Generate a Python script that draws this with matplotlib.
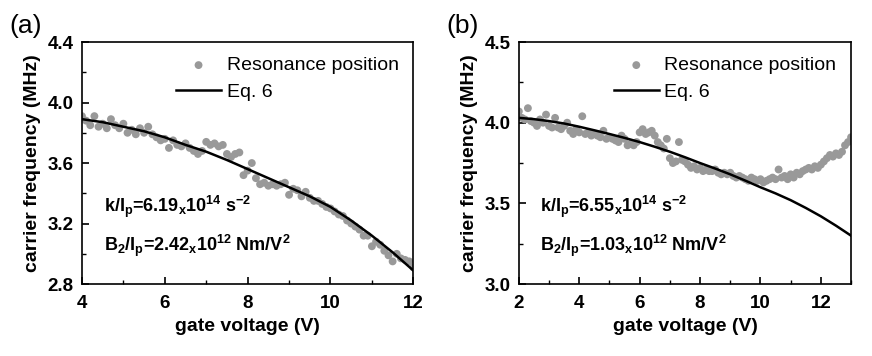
import numpy as np
import matplotlib
matplotlib.use("Agg")
import matplotlib.pyplot as plt

plt.rcParams['font.family'] = 'Liberation Sans'
plt.rcParams['mathtext.fontset'] = 'custom'
plt.rcParams['mathtext.rm'] = 'Liberation Sans'
plt.rcParams['mathtext.bf'] = 'Liberation Sans:bold'

# panel (a): resonance positions, 4..12 V in 0.1 V steps
volts_a = np.round(np.arange(4.0, 12.01, 0.1), 2)
freq_a = [3.91, 3.88, 3.85, 3.91, 3.84, 3.86, 3.83, 3.89, 3.85, 3.83,
          3.86, 3.80, 3.82, 3.79, 3.83, 3.80, 3.84, 3.79, 3.77, 3.75,
          3.76, 3.70, 3.75, 3.72, 3.71, 3.73, 3.70, 3.68, 3.66, 3.68,
          3.74, 3.72, 3.73, 3.71, 3.72, 3.66, 3.64, 3.66, 3.67, 3.52,
          3.55, 3.60, 3.50, 3.46, 3.47, 3.45, 3.46, 3.45, 3.46, 3.47,
          3.39, 3.43, 3.42, 3.38, 3.41, 3.37, 3.35, 3.35, 3.33, 3.31,
          3.30, 3.28, 3.26, 3.25, 3.22, 3.20, 3.18, 3.16, 3.12, 3.12,
          3.05, 3.08, 3.06, 3.02, 2.99, 2.95, 3.00, 2.97, 2.96, 2.95,
          2.91]
fit_va = [4.0, 4.5, 5.0, 5.5, 6.0, 6.5, 7.0, 7.5, 8.0, 8.5, 9.0, 9.5, 10.0, 10.5, 11.0, 11.5, 12.0]
fit_fa = [3.89, 3.87, 3.84, 3.81, 3.77, 3.72, 3.675, 3.62, 3.56, 3.50, 3.44, 3.38, 3.31, 3.22, 3.12, 3.01, 2.89]

# panel (b): resonance positions, 2..13 V in 0.1 V steps
volts_b = np.round(np.arange(2.0, 13.01, 0.1), 2)
freq_b = [4.07, 4.03, 4.02, 4.09, 4.01, 4.00, 3.98, 4.02, 4.00, 4.05,
          3.98, 3.97, 4.03, 3.97, 3.96, 3.98, 4.00, 3.95, 3.93, 3.96,
          3.94, 4.04, 3.93, 3.94, 3.92, 3.93, 3.92, 3.91, 3.95, 3.90,
          3.91, 3.90, 3.89, 3.88, 3.92, 3.90, 3.86, 3.87, 3.86, 3.88,
          3.94, 3.96, 3.93, 3.94, 3.95, 3.92, 3.88, 3.86, 3.84, 3.90,
          3.78, 3.75, 3.76, 3.88, 3.77, 3.76, 3.74, 3.72, 3.73, 3.71,
          3.72, 3.70, 3.71, 3.70, 3.70, 3.71, 3.69, 3.68, 3.69, 3.68,
          3.69, 3.67, 3.66, 3.67, 3.66, 3.65, 3.64, 3.66, 3.65, 3.64,
          3.65, 3.63, 3.64, 3.65, 3.66, 3.65, 3.71, 3.66, 3.67, 3.65,
          3.68, 3.66, 3.69, 3.68, 3.70, 3.71, 3.72, 3.71, 3.73, 3.72,
          3.74, 3.76, 3.78, 3.80, 3.79, 3.81, 3.80, 3.82, 3.86, 3.88,
          3.91]
fit_vb = [2.0, 2.5, 3.0, 3.5, 4.0, 4.5, 5.0, 5.5, 6.0, 6.5, 7.0, 7.5, 8.0,
          8.5, 9.0, 9.5, 10.0, 10.5, 11.0, 11.5, 12.0, 12.5, 13.0]
fit_fb = [4.03, 4.022, 4.01, 3.995, 3.975, 3.953, 3.93, 3.906, 3.88, 3.851, 3.82, 3.786, 3.75,
          3.716, 3.68, 3.641, 3.60, 3.562, 3.52, 3.472, 3.42, 3.362, 3.30]

fig = plt.figure(figsize=(8.72, 3.56), dpi=100)
ax_a = fig.add_axes([0.094, 0.202, 0.380, 0.680])
ax_b = fig.add_axes([0.595, 0.202, 0.381, 0.680])

panels = [
    (ax_a, volts_a, freq_a, fit_va, fit_fa, (4, 12), (2.8, 4.4), np.arange(4, 12.1, 2), np.arange(2.8, 4.41, 0.4),
     r'k/I$_\mathbf{p}$=6.19$_\mathbf{x}$10$^\mathbf{14}$ s$^\mathbf{-2}$',
     r'B$_\mathbf{2}$/I$_\mathbf{p}$=2.42$_\mathbf{x}$10$^\mathbf{12}$ Nm/V$^\mathbf{2}$', '(a)'),
    (ax_b, volts_b, freq_b, fit_vb, fit_fb, (2, 13), (3.0, 4.5), np.arange(2, 13.1, 2), np.arange(3.0, 4.51, 0.5),
     r'k/I$_\mathbf{p}$=6.55$_\mathbf{x}$10$^\mathbf{14}$ s$^\mathbf{-2}$',
     r'B$_\mathbf{2}$/I$_\mathbf{p}$=1.03$_\mathbf{x}$10$^\mathbf{12}$ Nm/V$^\mathbf{2}$', '(b)'),
]

for ax, vx, fy, fvx, ffy, xl, yl, xt, yt, txt1, txt2, tag in panels:
    ax.scatter(vx, fy, s=32, color='#999999', edgecolors='none', label='Resonance position', zorder=2)
    ax.plot(fvx, ffy, color='black', lw=1.8, label='Eq. 6', zorder=3)
    ax.set_xlim(xl)
    ax.set_ylim(yl)
    ax.set_xticks(xt)
    ax.set_yticks(yt)
    ax.set_xticklabels([str(int(v)) for v in xt])
    ax.set_yticklabels(['%.1f' % v for v in yt])
    ax.set_xticks(np.arange(xl[0], xl[1] + 0.01, 1), minor=True)
    ax.set_yticks(np.arange(yl[0], yl[1] + 0.01, (yt[1] - yt[0]) / 2), minor=True)
    ax.tick_params(which='major', direction='in', length=5, width=1.2, labelsize=13.5, pad=6)
    ax.tick_params(axis='x', which='major', pad=8)
    ax.tick_params(which='minor', direction='in', length=3, width=1.0)
    for lab in ax.get_xticklabels() + ax.get_yticklabels():
        lab.set_fontweight('bold')
    for sp in ax.spines.values():
        sp.set_linewidth(1.2)
    ax.set_xlabel('gate voltage (V)', fontsize=14, fontweight='bold', labelpad=4)
    ax.set_ylabel('carrier frequency (MHz)', fontsize=14, fontweight='bold', labelpad=5)
    ax.text(0.065, 0.32, txt1, transform=ax.transAxes, fontsize=13, fontweight='bold', va='center')
    ax.text(0.065, 0.16, txt2, transform=ax.transAxes, fontsize=13, fontweight='bold', va='center')
    ax.legend(loc='upper right', bbox_to_anchor=(1.0, 1.0), frameon=False, fontsize=14,
              handlelength=2.3, handletextpad=0.3, labelspacing=0.45, borderaxespad=0.35,
              scatterpoints=1)
    pos = ax.get_position()
    fig.text(pos.x0 - 0.083, 0.928, tag, fontsize=19, va='center')

fig.savefig('out.png', dpi=100)
